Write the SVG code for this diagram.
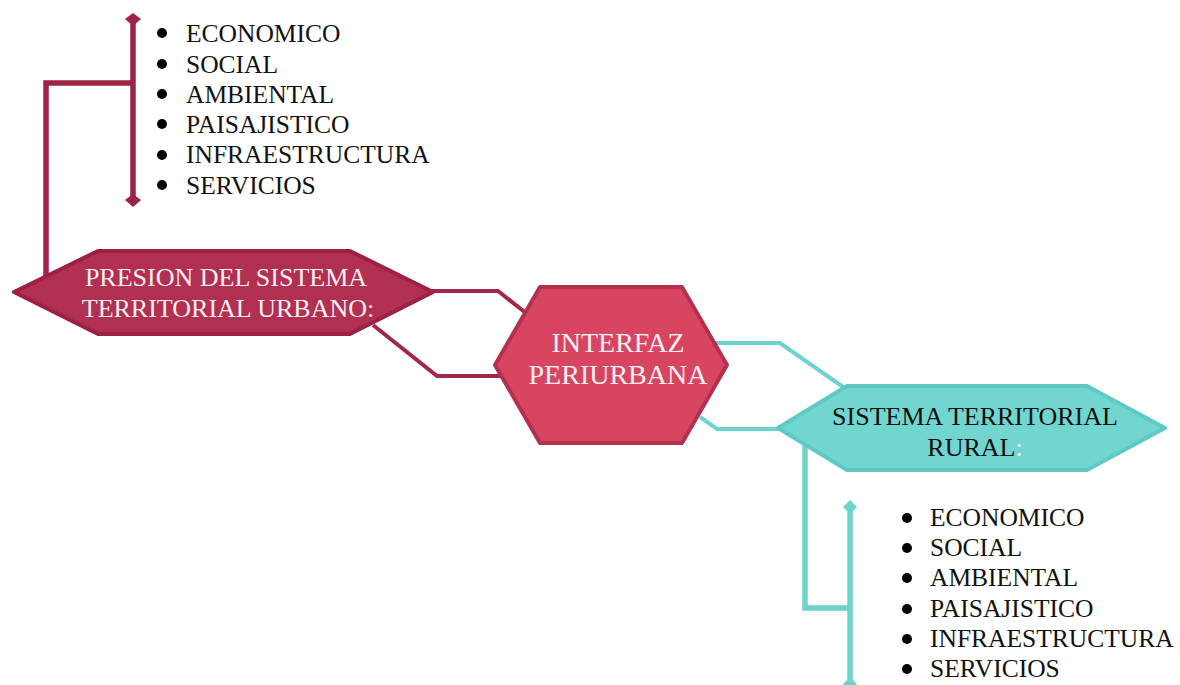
<svg xmlns="http://www.w3.org/2000/svg" width="1180" height="685" viewBox="0 0 1180 685">
<defs>
<style>
.lst{font-family:"Liberation Serif","Times New Roman",serif;font-size:25.5px;fill:#111111}
.hx{font-family:"Liberation Serif","Times New Roman",serif;font-size:26px;text-anchor:middle}
.big{font-size:28px}
.red{fill:none;stroke:#a0284a;stroke-width:4}
.redb{fill:none;stroke:#9e2346;stroke-width:5.5}
.teal{fill:none;stroke:#6dd3cc;stroke-width:4}
.tealb{fill:none;stroke:#6dd3cc;stroke-width:5.5}
</style>
</defs>
<rect width="1180" height="685" fill="#ffffff"/>
<g id="connectors">
<polyline class="redb" points="46,283 46,83 133,83"/>
<line class="redb" x1="133" y1="19" x2="133" y2="200"/>
<polygon points="133,13 141,19 133,26 125,19" fill="#9e2346"/>
<polygon points="133,194 141,200 133,207 125,200" fill="#9e2346"/>
<polyline class="red" points="432,291 498,291 526,313"/>
<polyline class="red" points="373,325 437,376 500,376"/>
<polyline class="teal" points="715,343 780,343 846,389"/>
<polyline class="teal" points="700,417 717,429 782,429"/>
<polyline class="tealb" points="805,440 805,608 850,608"/>
<line class="tealb" x1="850" y1="507" x2="850" y2="685"/>
<polygon points="850,500 857,507 850,514 843,507" fill="#6dd3cc"/>
<polygon points="850,677 857,684 850,691 843,684" fill="#6dd3cc"/>
</g>
<g id="list-urbano">
<g fill="#000000">
<circle cx="162" cy="33" r="5"/><circle cx="162" cy="64" r="5"/><circle cx="162" cy="94" r="5"/><circle cx="162" cy="124" r="5"/><circle cx="162" cy="155" r="5"/><circle cx="162" cy="185" r="5"/>
</g>
<text class="lst" x="186" y="42">ECONOMICO</text>
<text class="lst" x="186" y="73">SOCIAL</text>
<text class="lst" x="186" y="103">AMBIENTAL</text>
<text class="lst" x="186" y="133">PAISAJISTICO</text>
<text class="lst" x="186" y="163">INFRAESTRUCTURA</text>
<text class="lst" x="186" y="194">SERVICIOS</text>
</g>
<g id="node-urbano">
<polygon points="14,292 98,251 350,251 433,292 350,334 98,334" fill="#b12f50" stroke="#9b2243" stroke-width="4" stroke-linejoin="round"/>
<text class="hx" x="226" y="286" fill="#fbeef0">PRESION DEL SISTEMA</text>
<text class="hx" x="228" y="317" fill="#fbeef0">TERRITORIAL URBANO:</text>
</g>
<g id="node-interfaz">
<polygon points="540,287 682,287 727,365 682,443 540,443 495,365" fill="#d84560" stroke="#b3304f" stroke-width="4" stroke-linejoin="round"/>
<text class="hx big" x="618" y="352" fill="#fdf0f2">INTERFAZ</text>
<text class="hx big" x="618" y="384" fill="#fdf0f2">PERIURBANA</text>
</g>
<g id="node-rural">
<polygon points="778,428 847,386 1087,386 1165,428 1087,470 847,470" fill="#72d6d0" stroke="#5fcac3" stroke-width="4" stroke-linejoin="round"/>
<text class="hx" x="975" y="425" fill="#111111">SISTEMA TERRITORIAL</text>
<text class="hx" x="975" y="456" fill="#111111">RURAL<tspan fill="#e8f8f7">:</tspan></text>
</g>
<g id="list-rural">
<g fill="#000000">
<circle cx="907" cy="518" r="5"/><circle cx="907" cy="548" r="5"/><circle cx="907" cy="578" r="5"/><circle cx="907" cy="609" r="5"/><circle cx="907" cy="639" r="5"/><circle cx="907" cy="669" r="5"/>
</g>
<text class="lst" x="930" y="526">ECONOMICO</text>
<text class="lst" x="930" y="556">SOCIAL</text>
<text class="lst" x="930" y="586">AMBIENTAL</text>
<text class="lst" x="930" y="617">PAISAJISTICO</text>
<text class="lst" x="930" y="647">INFRAESTRUCTURA</text>
<text class="lst" x="930" y="677">SERVICIOS</text>
</g>
</svg>
